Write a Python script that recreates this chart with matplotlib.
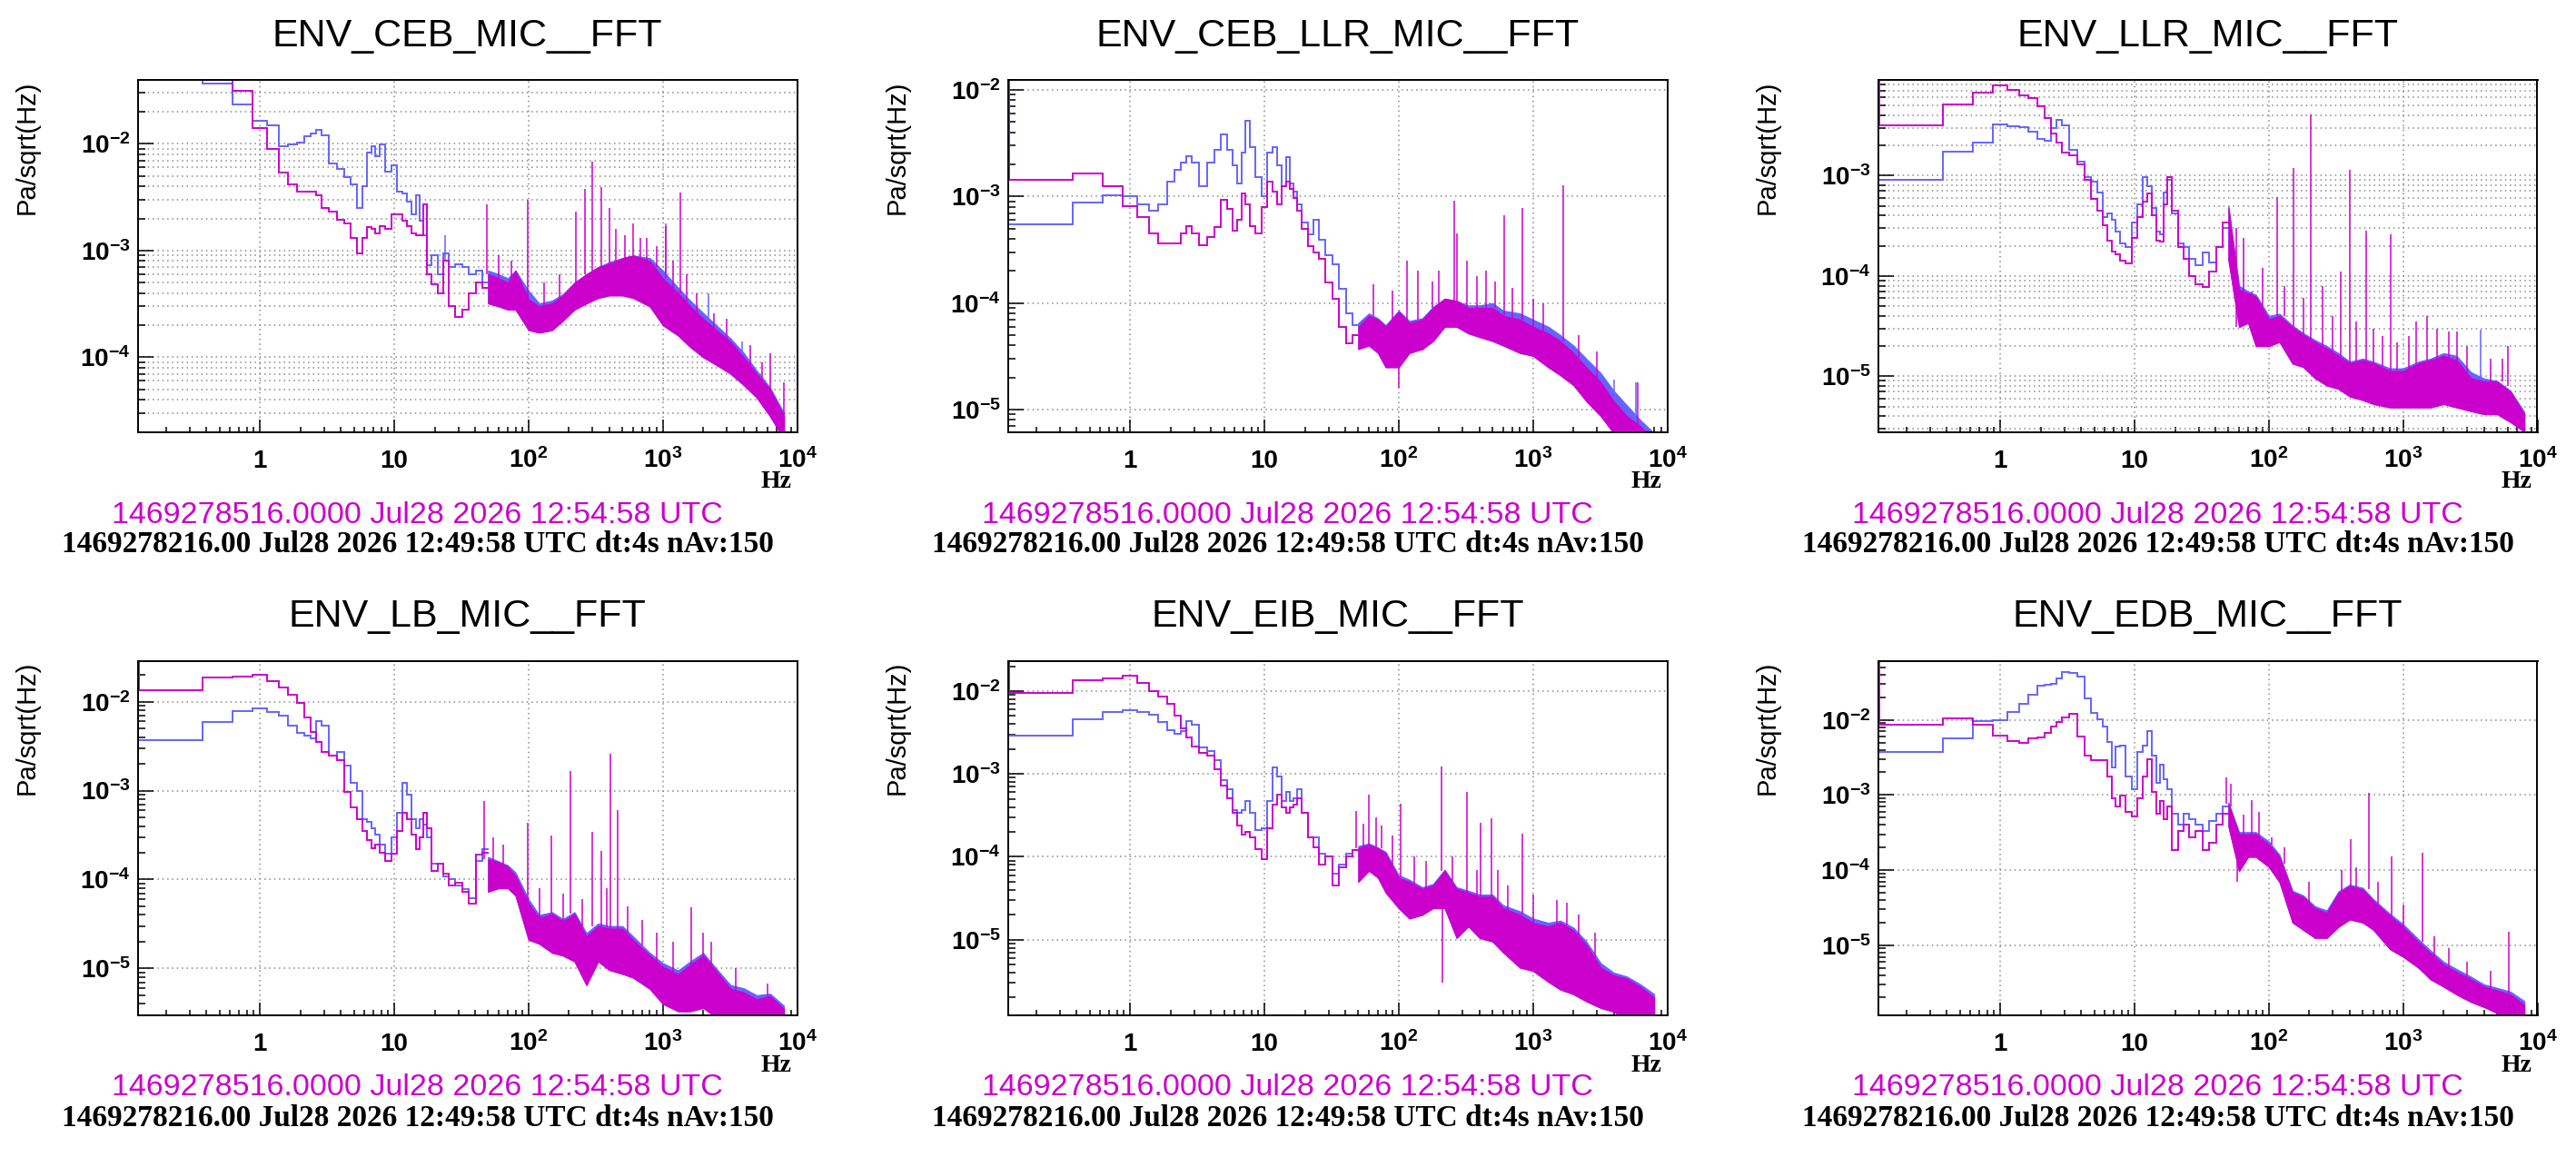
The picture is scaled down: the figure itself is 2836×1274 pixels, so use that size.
import numpy as np
import matplotlib
matplotlib.use("Agg")
import matplotlib.pyplot as plt
from matplotlib.ticker import FixedLocator, LogLocator, NullFormatter, FuncFormatter

plt.rcParams["font.family"] = ["Liberation Sans", "DejaVu Sans"]
plt.rcParams["mathtext.fontset"] = "custom"
plt.rcParams["mathtext.rm"] = "Liberation Sans:bold"
plt.rcParams["mathtext.it"] = "Liberation Sans:bold"
plt.rcParams["mathtext.bf"] = "Liberation Sans:bold"
plt.rcParams["mathtext.default"] = "rm"

W_PX, H_PX = 2836, 1274
BLUE = "#6464ff"
MAGENTA = "#cc00cc"

TITLES = ["ENV_CEB_MIC__FFT", "ENV_CEB_LLR_MIC__FFT", "ENV_LLR_MIC__FFT",
          "ENV_LB_MIC__FFT", "ENV_EIB_MIC__FFT", "ENV_EDB_MIC__FFT"]
STAMP_NOW = "1469278516.0000 Jul28 2026 12:54:58 UTC"
STAMP_REF = "1469278216.00 Jul28 2026 12:49:58 UTC dt:4s nAv:150"
Y_TITLE = "Pa/sqrt(Hz)"
X_UNIT = "Hz"

# log10 of the y range of each pad
Y_RANGE = [(-4.70, -1.404), (-5.21, -1.909), (-5.555, -2.05),
           (-5.527, -1.544), (-5.913, -1.638), (-5.935, -1.218)]
MINOR_GRID = [True, False, True, False, False, False]

# bin centres (Hz) for the low frequency part, drawn as histogram steps
LOW_F = [0.25, 0.5, 0.75, 1.0, 1.25, 1.5, 1.75, 2.0, 2.25, 2.5, 2.75, 3.0,
         3.5, 4.0, 4.5, 5.0, 5.5, 6.0, 6.5, 7.0, 7.5, 8.0,
         9.0, 10, 11, 12, 13, 14, 15, 16, 17, 18,
         20, 22, 24, 27, 30, 34, 38, 43, 48]
# frequencies (Hz) for the dense high frequency band
HIGH_F = [50, 60, 70, 80, 100, 120, 150, 180, 220, 270, 330, 400, 500, 600,
          800, 1000, 1300, 1600, 2000, 2500, 3200, 4000, 5000, 6300, 8000]

# ---- ENV_CEB_MIC
CEB_BLUE_LOW = [0.0394, 0.0365, 0.0234, 0.0163, 0.0148, 0.0095, 0.0098, 0.0103, 0.0118, 0.0126, 0.0134, 0.012,
                0.0065, 0.0058, 0.0049, 0.0042, 0.0025, 0.004, 0.0082, 0.0095, 0.0077, 0.0098,
                0.0055, 0.0063, 0.0036, 0.0034, 0.0029, 0.0022, 0.0033, 0.0019, 0.0014, 0.00073,
                0.0009, 0.0006, 0.00095, 0.0007, 0.00075, 0.0007, 0.0006, 0.00065, 0.0005]
CEB_MAG_LOW = [0.0394, 0.0394, 0.0316, 0.0141, 0.0089, 0.0054, 0.0042, 0.0036, 0.0036, 0.0036, 0.0033, 0.0025,
               0.0023, 0.00195, 0.0018, 0.0013, 0.00095, 0.0013, 0.00166, 0.0016, 0.00146, 0.0017,
               0.0016, 0.0022, 0.0022, 0.0019, 0.0017, 0.00146, 0.0014, 0.0014, 0.0027, 0.0006,
               0.00048, 0.0004, 0.0008, 0.0003, 0.00024, 0.00028, 0.0004, 0.0005, 0.00045]
CEB_MAG_HI = [6e-4, 5.5e-4, 5e-4, 6.5e-4, 3.5e-4, 3.0e-4, 3.2e-4, 3.8e-4, 5e-4, 6e-4, 7e-4, 7.5e-4, 8.5e-4,
              9e-4, 8e-4, 5.5e-4, 4e-4, 3e-4, 2.3e-4, 1.8e-4, 1.4e-4, 1.0e-4, 7e-5, 5e-5, 2.8e-5]
CEB_MAG_LO = [3.2e-4, 3.0e-4, 2.8e-4, 2.8e-4, 1.8e-4, 1.7e-4, 1.8e-4, 2.2e-4, 2.8e-4, 3.2e-4, 3.6e-4, 3.8e-4,
              3.8e-4, 3.6e-4, 3.0e-4, 2.0e-4, 1.6e-4, 1.25e-4, 1.0e-4, 8.5e-5, 7e-5, 5.5e-5, 4.2e-5, 2.8e-5, 1.7e-5]
CEB_BLUE_HI = [6.5e-4, 6e-4, 5.5e-4, 6.5e-4, 4.2e-4, 3.2e-4, 3.4e-4, 3.9e-4, 5e-4, 6e-4, 7e-4, 7.8e-4, 8.5e-4,
               9e-4, 8.5e-4, 6.5e-4, 4.5e-4, 3.4e-4, 2.6e-4, 2e-4, 1.5e-4, 1.1e-4, 7.5e-5, 5.2e-5, 3e-5]
CEB_SPIKE_F = [49, 99, 225, 263, 297, 350, 400, 755, 1050, 1350, 2400, 6300, 8000,
               60, 75, 130, 170, 450, 520, 600, 680, 900, 1200, 1500, 1800, 3000, 4500, 5500]
CEB_SPIKE_BASE = [6e-4, 3.5e-4, 5e-4, 6e-4, 6.5e-4, 7e-4, 7.5e-4, 8e-4, 5.5e-4, 4e-4, 1.8e-4, 5e-5, 2.8e-5,
                  5.5e-4, 5e-4, 3e-4, 3.6e-4, 8e-4, 8.5e-4, 9e-4, 8.5e-4, 7e-4, 4.5e-4, 3.3e-4, 2.6e-4,
                  1.5e-4, 8.5e-5, 6e-5]
CEB_SPIKE_TOP = [2.7e-3, 3.0e-3, 2.3e-3, 3.8e-3, 6.8e-3, 3.9e-3, 2.5e-3, 1.3e-3, 1.7e-3, 3.5e-3, 2.6e-4, 1.1e-4, 5.8e-5,
                 9e-4, 8e-4, 5e-4, 6e-4, 1.6e-3, 1.4e-3, 1.8e-3, 1.3e-3, 1.1e-3, 8e-4, 6e-4, 4e-4,
                 2.3e-4, 1.3e-4, 9e-5]
CEB_BSPIKE_F = [24, 1050, 2200, 3900]
CEB_BSPIKE_BASE = [8e-4, 5.5e-4, 2.3e-4, 1.1e-4]
CEB_BSPIKE_TOP = [1.4e-3, 1.8e-3, 4e-4, 1.4e-4]

# ---- ENV_CEB_LLR_MIC
CEB_LLR_BLUE_LOW = [5.45e-4, 8.7e-4, 1.02e-3, 1.0e-3, 8.4e-4, 7.3e-4, 8.5e-4, 1.38e-3, 1.79e-3, 2.1e-3, 2.37e-3, 2.1e-3,
                    1.25e-3, 2.1e-3, 2.75e-3, 3.8e-3, 2.75e-3, 1.97e-3, 1.33e-3, 2.56e-3, 5.1e-3, 2.9e-3,
                    1.52e-3, 1.0e-3, 2.56e-3, 2.9e-3, 1.97e-3, 1.25e-3, 2.33e-3, 1.33e-3, 1.1e-3, 8.4e-4,
                    5.7e-4, 4.4e-4, 6.1e-4, 3.9e-4, 2.8e-4, 2.3e-4, 1.36e-4, 8e-5, 6.2e-5]
CEB_LLR_MAG_LOW = [1.42e-3, 1.64e-3, 1.26e-3, 8.05e-4, 6.4e-4, 4.5e-4, 3.6e-4, 3.6e-4, 3.6e-4, 4.5e-4, 5.3e-4, 4.5e-4,
                   3.5e-4, 4.2e-4, 5.2e-4, 9.3e-4, 7.6e-4, 4.8e-4, 6.1e-4, 1.06e-3, 8.4e-4, 5.3e-4,
                   4.5e-4, 7.9e-4, 1.38e-3, 1.1e-3, 8.4e-4, 1.25e-3, 1.38e-3, 1.17e-3, 9.6e-4, 7.4e-4,
                   5.0e-4, 3.4e-4, 3.0e-4, 2.6e-4, 1.55e-4, 1.1e-4, 6e-5, 4.2e-5, 5e-5]
CEB_LLR_MAG_HI = [6e-5, 7.6e-5, 7e-5, 6e-5, 8.3e-5, 6.5e-5, 7e-5, 9e-5, 1.1e-4, 1.05e-4, 9e-5, 9e-5, 9e-5,
                  7.6e-5, 7e-5, 6e-5, 5.2e-5, 4.4e-5, 3.4e-5, 2.5e-5, 1.8e-5, 1.2e-5, 8.7e-6, 7e-6, 5e-6]
CEB_LLR_MAG_LO = [3.7e-5, 4e-5, 3.4e-5, 2.5e-5, 2.5e-5, 3.4e-5, 3.7e-5, 4.4e-5, 6e-5, 6e-5, 5.2e-5, 4.8e-5, 4.4e-5,
                  4e-5, 3.4e-5, 3.2e-5, 2.5e-5, 2.1e-5, 1.7e-5, 1.2e-5, 8.7e-6, 6e-6, 5e-6, 4e-6, 3e-6]
CEB_LLR_BLUE_HI = [6.5e-5, 8e-5, 7.2e-5, 6.2e-5, 8.5e-5, 6.8e-5, 7.2e-5, 9.2e-5, 1.1e-4, 1.05e-4, 9.5e-5, 9.5e-5, 1e-4,
                   8.5e-5, 8e-5, 7e-5, 6e-5, 5e-5, 4e-5, 3e-5, 2.2e-5, 1.5e-5, 1.1e-5, 8e-6, 6e-6]
CEB_LLR_SPIKE_F = [100, 116, 140, 178, 261, 270, 610, 830, 1680, 6000,
                   65, 90, 200, 320, 380, 450, 520, 700, 1000, 1200, 2200, 3000]
CEB_LLR_SPIKE_BASE = [3e-5, 6.5e-5, 7e-5, 9e-5, 1.05e-4, 1.05e-4, 7.6e-5, 7e-5, 4.4e-5, 7e-6,
                      7.5e-5, 7e-5, 1e-4, 9e-5, 9e-5, 9e-5, 9e-5, 7e-5, 6e-5, 5.5e-5, 3e-5, 2e-5]
CEB_LLR_SPIKE_TOP = [1.6e-5, 2.5e-4, 2e-4, 1.6e-4, 9.2e-4, 4.5e-4, 6.7e-4, 7.8e-4, 1.27e-3, 1.8e-5,
                     1.5e-4, 1.3e-4, 2e-4, 2.5e-4, 1.8e-4, 2e-4, 1.6e-4, 1.4e-4, 1.1e-4, 1e-4, 5e-5, 3.5e-5]
CEB_LLR_BSPIKE_F = [4000, 5800]
CEB_LLR_BSPIKE_BASE = [1.2e-5, 8e-6]
CEB_LLR_BSPIKE_TOP = [1.9e-5, 1.8e-5]

# ---- ENV_LLR_MIC
LLR_BLUE_LOW = [9.0e-4, 1.74e-3, 2.15e-3, 3.2e-3, 3.1e-3, 3.05e-3, 2.75e-3, 2.3e-3, 2.2e-3, 3e-3, 3.6e-3, 3.15e-3,
                1.8e-3, 1.37e-3, 9.7e-4, 8.7e-4, 6.8e-4, 3.9e-4, 4.2e-4, 3.65e-4, 2.76e-4, 2.1e-4,
                1.95e-4, 3.4e-4, 5.2e-4, 9.7e-4, 7.8e-4, 4.8e-4, 2.76e-4, 2.6e-4, 6.8e-4, 9e-4,
                4.2e-4, 2.1e-4, 1.95e-4, 1.48e-4, 1.28e-4, 1.7e-4, 1.37e-4, 1.95e-4, 3.0e-4]
LLR_MAG_LOW = [3.15e-3, 5.1e-3, 6.75e-3, 7.9e-3, 7.2e-3, 6.3e-3, 5.9e-3, 4.9e-3, 3.7e-3, 2.64e-3, 2.15e-3, 1.68e-3,
               1.6e-3, 1.28e-3, 9.0e-4, 5.9e-4, 4.5e-4, 3.2e-4, 2.24e-4, 1.76e-4, 1.64e-4, 1.43e-4,
               1.34e-4, 2.4e-4, 3.9e-4, 5.5e-4, 6.6e-4, 4e-4, 2.24e-4, 2.2e-4, 5.2e-4, 9.7e-4,
               4.5e-4, 1.95e-4, 1.48e-4, 1.0e-4, 8.2e-5, 7.7e-5, 1.1e-4, 1.95e-4, 3.4e-4]
LLR_MAG_HI = [4.8e-4, 7.3e-5, 6.7e-5, 6.2e-5, 3.7e-5, 4e-5, 3.1e-5, 2.6e-5, 2.2e-5, 1.9e-5, 1.6e-5, 1.35e-5, 1.45e-5,
              1.35e-5, 1.13e-5, 1.13e-5, 1.35e-5, 1.45e-5, 1.6e-5, 1.45e-5, 9.6e-6, 8.9e-6, 8.9e-6, 7e-6, 4.2e-6]
LLR_MAG_LO = [1.44e-4, 3.1e-5, 3.4e-5, 2.0e-5, 2.0e-5, 2.2e-5, 1.34e-5, 1.24e-5, 9.6e-6, 8.1e-6, 7.5e-6, 6.3e-6, 5.8e-6,
              5.3e-6, 4.9e-6, 4.9e-6, 4.9e-6, 4.9e-6, 5.3e-6, 4.9e-6, 4.5e-6, 4.2e-6, 4.2e-6, 3.5e-6, 2.8e-6]
LLR_BLUE_HI = [5e-4, 8e-5, 7e-5, 6.5e-5, 4e-5, 4.2e-5, 3.2e-5, 2.7e-5, 2.3e-5, 2e-5, 1.7e-5, 1.4e-5, 1.5e-5,
               1.4e-5, 1.2e-5, 1.2e-5, 1.4e-5, 1.5e-5, 1.7e-5, 1.6e-5, 1.1e-5, 9.5e-6, 9e-6, 7.2e-6, 4.4e-6]
LLR_SPIKE_F = [57, 65, 75, 115, 152, 205, 250, 345, 400, 530, 810, 1250, 1500, 2500, 5500, 6000,
               90, 130, 180, 300, 450, 600, 700, 900, 1100, 1800, 2200, 3000, 4500]
LLR_SPIKE_BASE = [3e-4, 7e-5, 6.5e-5, 4e-5, 3.1e-5, 2.2e-5, 1.9e-5, 1.6e-5, 1.35e-5, 1.45e-5, 1.13e-5,
                  1.35e-5, 1.45e-5, 1.45e-5, 8.9e-6, 8e-6,
                  5e-5, 4e-5, 2.6e-5, 1.7e-5, 1.4e-5, 1.35e-5, 1.25e-5, 1.13e-5, 1.2e-5, 1.5e-5, 1.5e-5,
                  1.1e-5, 8.9e-6]
LLR_SPIKE_TOP = [3.1e-5, 2.4e-4, 7e-5, 6.1e-4, 1.2e-3, 4.1e-3, 8e-5, 1.1e-4, 1.15e-3, 2.8e-4, 2.6e-4,
                 3.5e-5, 4e-5, 2.8e-5, 1.5e-5, 2e-5,
                 1.2e-4, 8e-5, 6e-5, 4e-5, 3.5e-5, 3e-5, 2.5e-5, 2.2e-5, 2.5e-5, 3e-5, 2.8e-5, 2e-5, 1.5e-5]
LLR_BSPIKE_F = [3800]
LLR_BSPIKE_BASE = [9e-6]
LLR_BSPIKE_TOP = [2.9e-5]

# ---- ENV_LB_MIC
LB_BLUE_LOW = [3.7e-3, 5.9e-3, 7.85e-3, 8.35e-3, 7.7e-3, 6.9e-3, 5.4e-3, 4.45e-3, 4.2e-3, 3.9e-3, 6.1e-3, 5.4e-3,
               2.5e-3, 2.7e-3, 1.9e-3, 1.23e-3, 1.0e-3, 4.8e-4, 4.4e-4, 3.8e-4, 3.2e-4, 2.45e-4,
               1.94e-4, 3.0e-4, 5.6e-4, 1.23e-3, 9e-4, 4.8e-4, 3.8e-4, 4.8e-4, 4.1e-4, 3.0e-4,
               1.5e-4, 1.5e-4, 1.08e-4, 1.0e-4, 8.5e-5, 7.9e-5, 6.2e-5, 1.6e-4, 2.2e-4]
LB_MAG_LOW = [0.0134, 0.0187, 0.0193, 0.0202, 0.0169, 0.0145, 0.0119, 0.0096, 0.0066, 0.0046, 0.0035, 0.0027,
              0.0025, 0.0022, 9.7e-4, 6.5e-4, 4.8e-4, 3.5e-4, 2.76e-4, 2.27e-4, 2.45e-4, 2.0e-4,
              1.6e-4, 1.94e-4, 3.5e-4, 5.6e-4, 4.8e-4, 3.2e-4, 2.2e-4, 3.0e-4, 5.6e-4, 3.8e-4,
              1.26e-4, 1.5e-4, 1.17e-4, 8.5e-5, 9.2e-5, 7.3e-5, 5.3e-5, 1.9e-4, 2.0e-4]
LB_MAG_HI = [1.7e-4, 1.57e-4, 1.4e-4, 1.1e-4, 5.4e-5, 3.7e-5, 4.1e-5, 3.4e-5, 4.1e-5, 2.3e-5, 3e-5, 2.8e-5, 2.8e-5,
             2.1e-5, 1.4e-5, 1.05e-5, 8.6e-6, 1.1e-5, 1.4e-5, 9.4e-6, 5.9e-6, 5.4e-6, 4.5e-6, 4.9e-6, 3.5e-6]
LB_MAG_LO = [7.3e-5, 8e-5, 8e-5, 6.6e-5, 2.1e-5, 1.9e-5, 1.5e-5, 1.4e-5, 1.2e-5, 6.5e-6, 1.2e-5, 9.6e-6, 8.7e-6,
             7.9e-6, 5.9e-6, 4e-6, 3.3e-6, 3.3e-6, 3.6e-6, 2.8e-6, 2.5e-6, 2.5e-6, 2.5e-6, 2.5e-6, 2.5e-6]
LB_BLUE_HI = [1.8e-4, 1.6e-4, 1.45e-4, 1.2e-4, 6e-5, 4e-5, 4.3e-5, 3.6e-5, 4.3e-5, 2.5e-5, 3.2e-5, 3e-5, 3e-5,
              2.3e-5, 1.5e-5, 1.15e-5, 9.5e-6, 1.2e-5, 1.5e-5, 1e-5, 6.5e-6, 6e-6, 5e-6, 5.2e-6, 3.8e-6]
LB_SPIKE_F = [47, 99, 148, 206, 300, 350, 405, 460, 1620, 6000,
              55, 65, 120, 180, 250, 380, 550, 700, 900, 1200, 2000, 2300, 3500]
LB_SPIKE_BASE = [1.7e-4, 5.4e-5, 4.1e-5, 4.1e-5, 3e-5, 3e-5, 2.8e-5, 2.8e-5, 1.1e-5, 4.9e-6,
                 1.6e-4, 1.5e-4, 3.7e-5, 3.4e-5, 3e-5, 2.9e-5, 2.5e-5, 1.8e-5, 1.2e-5, 9e-6, 1.4e-5, 1.1e-5, 5.7e-6]
LB_SPIKE_TOP = [7.7e-4, 4.3e-4, 3.1e-4, 1.67e-3, 3.4e-4, 2.1e-4, 2.6e-3, 6e-4, 4.9e-5, 6.8e-6,
                3e-4, 2.5e-4, 8e-5, 7e-5, 6e-5, 8e-5, 5e-5, 3.5e-5, 2.5e-5, 2e-5, 2.5e-5, 2e-5, 1e-5]
LB_BSPIKE_F = []
LB_BSPIKE_BASE = []
LB_BSPIKE_TOP = []

# ---- ENV_EIB_MIC
EIB_BLUE_LOW = [2.9e-3, 4.6e-3, 5.6e-3, 5.95e-3, 5.6e-3, 5.2e-3, 4.2e-3, 3.4e-3, 3.05e-3, 3.3e-3, 4.4e-3, 3.9e-3,
                2.1e-3, 1.9e-3, 1.47e-3, 8.5e-4, 6.6e-4, 3.7e-4, 3.4e-4, 3.7e-4, 4.7e-4, 3.4e-4,
                2.1e-4, 2.2e-4, 4.7e-4, 1.2e-3, 9.3e-4, 4.7e-4, 6.1e-4, 4.7e-4, 5.1e-4, 6.6e-4,
                3.4e-4, 1.7e-4, 1.7e-4, 1.1e-4, 1.0e-4, 6.3e-5, 8e-5, 1.1e-4, 1.2e-4]
EIB_MAG_LOW = [9.6e-3, 0.0136, 0.0142, 0.0152, 0.0125, 0.0101, 8.6e-3, 6.97e-3, 5.0e-3, 3.55e-3, 2.76e-3, 2.14e-3,
               1.8e-3, 1.66e-3, 1.14e-3, 7.2e-4, 5.1e-4, 3.4e-4, 2.4e-4, 1.87e-4, 2.0e-4, 1.7e-4,
               1.24e-4, 9.5e-5, 2.2e-4, 4.3e-4, 5.6e-4, 4e-4, 3.4e-4, 4e-4, 4.3e-4, 5.1e-4,
               3.4e-4, 1.7e-4, 1.3e-4, 8e-5, 1.0e-4, 4.5e-5, 7.5e-5, 1.0e-4, 1.2e-4]
EIB_MAG_HI = [1.27e-4, 1.4e-4, 1.27e-4, 1.1e-4, 5.6e-5, 5e-5, 4.1e-5, 4.5e-5, 6.8e-5, 4.1e-5, 3.7e-5, 3.3e-5, 3.3e-5,
              2.4e-5, 2e-5, 1.6e-5, 1.45e-5, 1.6e-5, 1.3e-5, 8.6e-6, 4.6e-6, 3.7e-6, 3.4e-6, 2.7e-6, 2e-6]
EIB_MAG_LO = [5e-5, 6.8e-5, 5.6e-5, 3.7e-5, 2.4e-5, 1.8e-5, 2e-5, 2.4e-5, 2.4e-5, 1.05e-5, 1.45e-5, 1.05e-5, 9.5e-6,
              7e-6, 4.6e-6, 4.2e-6, 3.1e-6, 2.5e-6, 2.2e-6, 1.8e-6, 1.5e-6, 1.35e-6, 1.1e-6, 1.1e-6, 1.1e-6]
EIB_BLUE_HI = [1.35e-4, 1.45e-4, 1.3e-4, 1.15e-4, 6e-5, 5.3e-5, 4.3e-5, 4.7e-5, 7e-5, 4.3e-5, 3.9e-5, 3.5e-5, 3.5e-5,
               2.6e-5, 2.2e-5, 1.8e-5, 1.6e-5, 1.7e-5, 1.4e-5, 9.5e-6, 5.2e-6, 4e-6, 3.6e-6, 2.9e-6, 2.2e-6]
EIB_SPIKE_F = [48, 60, 75, 103, 207, 212, 320, 410, 490, 830, 2900,
               55, 68, 90, 130, 160, 250, 380, 550, 650, 1000, 1500, 1800, 2200]
EIB_SPIKE_BASE = [1.27e-4, 1.4e-4, 1.27e-4, 5.6e-5, 6.8e-5, 2.4e-5, 3.7e-5, 3.3e-5, 3.3e-5, 2e-5, 5e-6,
                  1.3e-4, 1.3e-4, 8e-5, 4.7e-5, 4.2e-5, 5e-5, 3.4e-5, 2.8e-5, 2.3e-5, 1.6e-5, 1.5e-5, 1.5e-5, 1.1e-5]
EIB_SPIKE_TOP = [3.6e-4, 5.7e-4, 2.4e-4, 4.4e-4, 1.24e-3, 3e-6, 6e-4, 2.6e-4, 2.9e-4, 1.9e-4, 1.2e-5,
                 2.5e-4, 3e-4, 1.8e-4, 1e-4, 9e-5, 1e-4, 7e-5, 7e-5, 4.5e-5, 3.5e-5, 3e-5, 2.8e-5, 2e-5]
EIB_BSPIKE_F = []
EIB_BSPIKE_BASE = []
EIB_BSPIKE_TOP = []

# ---- ENV_EDB_MIC
EDB_BLUE_LOW = [3.7e-3, 5.7e-3, 9.7e-3, 9.9e-3, 0.0128, 0.0165, 0.0218, 0.0283, 0.029, 0.030, 0.0357, 0.043,
                0.0417, 0.0374, 0.0195, 0.0123, 0.0102, 8.1e-3, 5.1e-3, 2.3e-3, 4.4e-3, 4.6e-3,
                1.75e-3, 1.2e-3, 3.7e-3, 4.6e-3, 7.0e-3, 3.3e-3, 1.45e-3, 2.5e-3, 1.6e-3, 1.2e-3,
                5.7e-4, 4e-4, 5.7e-4, 4.8e-4, 4e-4, 3.3e-4, 4.5e-4, 5.7e-4, 7e-4]
EDB_MAG_LOW = [8.5e-3, 0.0105, 8.5e-3, 6.1e-3, 5.2e-3, 4.9e-3, 5.6e-3, 5.9e-3, 6.7e-3, 8.1e-3, 9.3e-3, 0.0107,
               0.0122, 6e-3, 3.3e-3, 2.9e-3, 2.9e-3, 2.9e-3, 1.75e-3, 9.1e-4, 7.0e-4, 9.8e-4,
               6e-4, 5.2e-4, 9.1e-4, 1.75e-3, 3.0e-3, 1.1e-3, 5.7e-4, 8.3e-4, 4.8e-4, 7e-4,
               1.87e-4, 3.3e-4, 4e-4, 2.7e-4, 3.3e-4, 1.87e-4, 2.3e-4, 4e-4, 5.7e-4]
EDB_MAG_HI = [7.6e-4, 3.0e-4, 3e-4, 3e-4, 2.2e-4, 1.5e-4, 5e-5, 4.4e-5, 3.1e-5, 2.7e-5, 5e-5, 6.1e-5, 5.5e-5,
              3.9e-5, 2.45e-5, 1.75e-5, 1.1e-5, 7.8e-6, 5.5e-6, 4.4e-6, 3.5e-6, 2.8e-6, 2.5e-6, 2.2e-6, 1.6e-6]
EDB_MAG_LO = [3.8e-4, 9.7e-5, 1.5e-4, 1.5e-4, 1.1e-4, 6.9e-5, 2e-5, 1.6e-5, 1.25e-5, 1.25e-5, 1.75e-5, 2.2e-5, 2e-5,
              1.6e-5, 8.8e-6, 7e-6, 5e-6, 3.5e-6, 2.8e-6, 2.2e-6, 1.75e-6, 1.5e-6, 1.25e-6, 1.1e-6, 1.1e-6]
EDB_BLUE_HI = [8e-4, 3.2e-4, 3.2e-4, 3.2e-4, 2.4e-4, 1.6e-4, 5.3e-5, 4.6e-5, 3.3e-5, 2.9e-5, 5.2e-5, 6.4e-5, 5.8e-5,
               4.1e-5, 2.6e-5, 1.9e-5, 1.2e-5, 8.5e-6, 6e-6, 4.8e-6, 3.8e-6, 3e-6, 2.7e-6, 2.4e-6, 1.8e-6]
EDB_SPIKE_F = [48, 58, 75, 105, 410, 560, 820, 1400, 6100,
               52, 65, 85, 130, 200, 350, 450, 650, 1000, 1700, 2200, 3000, 4500]
EDB_SPIKE_BASE = [7.6e-4, 3e-4, 3e-4, 2.2e-4, 6.1e-5, 5.5e-5, 2.45e-5, 1.1e-5, 2.2e-6,
                  7e-4, 3e-4, 2.8e-4, 1.2e-4, 3.7e-5, 5.3e-5, 5.8e-5, 3.6e-5, 1.75e-5, 7e-6, 5e-6, 3.7e-6, 2.7e-6]
EDB_SPIKE_TOP = [1.7e-3, 6.9e-5, 8.5e-4, 2.7e-4, 2.55e-4, 1.07e-3, 1.5e-4, 1.7e-4, 1.5e-5,
                 1.4e-3, 5.5e-4, 6e-4, 2e-4, 7e-5, 1e-4, 1.1e-4, 7e-5, 3.5e-5, 1.3e-5, 9e-6, 6e-6, 4.5e-6]
EDB_BSPIKE_F = []
EDB_BSPIKE_BASE = []
EDB_BSPIKE_TOP = []

panels = [
    (CEB_BLUE_LOW, CEB_MAG_LOW, CEB_BLUE_HI, CEB_MAG_HI, CEB_MAG_LO,
     CEB_SPIKE_F, CEB_SPIKE_BASE, CEB_SPIKE_TOP, CEB_BSPIKE_F, CEB_BSPIKE_BASE, CEB_BSPIKE_TOP),
    (CEB_LLR_BLUE_LOW, CEB_LLR_MAG_LOW, CEB_LLR_BLUE_HI, CEB_LLR_MAG_HI, CEB_LLR_MAG_LO,
     CEB_LLR_SPIKE_F, CEB_LLR_SPIKE_BASE, CEB_LLR_SPIKE_TOP, CEB_LLR_BSPIKE_F, CEB_LLR_BSPIKE_BASE, CEB_LLR_BSPIKE_TOP),
    (LLR_BLUE_LOW, LLR_MAG_LOW, LLR_BLUE_HI, LLR_MAG_HI, LLR_MAG_LO,
     LLR_SPIKE_F, LLR_SPIKE_BASE, LLR_SPIKE_TOP, LLR_BSPIKE_F, LLR_BSPIKE_BASE, LLR_BSPIKE_TOP),
    (LB_BLUE_LOW, LB_MAG_LOW, LB_BLUE_HI, LB_MAG_HI, LB_MAG_LO,
     LB_SPIKE_F, LB_SPIKE_BASE, LB_SPIKE_TOP, LB_BSPIKE_F, LB_BSPIKE_BASE, LB_BSPIKE_TOP),
    (EIB_BLUE_LOW, EIB_MAG_LOW, EIB_BLUE_HI, EIB_MAG_HI, EIB_MAG_LO,
     EIB_SPIKE_F, EIB_SPIKE_BASE, EIB_SPIKE_TOP, EIB_BSPIKE_F, EIB_BSPIKE_BASE, EIB_BSPIKE_TOP),
    (EDB_BLUE_LOW, EDB_MAG_LOW, EDB_BLUE_HI, EDB_MAG_HI, EDB_MAG_LO,
     EDB_SPIKE_F, EDB_SPIKE_BASE, EDB_SPIKE_TOP, EDB_BSPIKE_F, EDB_BSPIKE_BASE, EDB_BSPIKE_TOP),
]

# pad geometry in pixels
COL_LEFT = [151.7, 1109.7, 2067.7]
AX_W = 725.8
ROW_TOP = [88.3, 728.0]
AX_H = [387.4, 390.0]
TITLE_Y = [40, 679]
NOW_Y = [567, 1198]
REF_Y = [600, 1232]
X_LEFT = 0.123

low_f = np.array(LOW_F)
edges = np.concatenate([[low_f[0] - (low_f[1] - low_f[0]) / 2],
                        (low_f[:-1] + low_f[1:]) / 2,
                        [low_f[-1] + (low_f[-1] - low_f[-2]) / 2]])

fig = plt.figure(figsize=(W_PX / 100, H_PX / 100), dpi=100)

LW = 1.4
for i, (blue, mag, bhi, mhi, mlo, sf, sb, st, bsf, bsb, bst) in enumerate(panels):
    row, col = divmod(i, 3)
    left, top, h = COL_LEFT[col], ROW_TOP[row], AX_H[row]
    ax = fig.add_axes([left / W_PX, 1 - (top + h) / H_PX, AX_W / W_PX, h / H_PX])
    ax.set_xscale("log")
    ax.set_yscale("log")
    ylo, yhi = 10 ** Y_RANGE[i][0], 10 ** Y_RANGE[i][1]

    # reference trace (blue) first, current trace (magenta) on top
    ax.fill_between(HIGH_F, mlo, bhi, color=BLUE, lw=0.8, zorder=2.0)
    ax.stairs(blue, edges, baseline=None, color=BLUE, lw=LW, zorder=2.1)
    if bsf:
        ax.vlines(bsf, bsb, bst, color=BLUE, lw=1.1, zorder=2.1)
    ax.fill_between(HIGH_F, mlo, mhi, color=MAGENTA, lw=0.8, zorder=2.2)
    ax.stairs(mag, edges, baseline=None, color=MAGENTA, lw=LW, zorder=2.3)
    ax.vlines(sf, sb, st, color=MAGENTA, lw=1.1, zorder=2.3)
    ax.vlines(edges[0], mag[0], yhi, color=MAGENTA, lw=LW, zorder=2.3)

    ax.set_xlim(X_LEFT, 1e4)
    ax.set_ylim(ylo, yhi)

    ax.xaxis.set_major_locator(FixedLocator([1, 10, 100, 1000, 10000]))
    ax.xaxis.set_major_formatter(NullFormatter())
    ax.xaxis.set_minor_locator(LogLocator(10, subs=np.arange(2, 10), numticks=50))
    ax.xaxis.set_minor_formatter(NullFormatter())
    ax.yaxis.set_major_locator(FixedLocator([10.0 ** e for e in range(-7, 1)]))
    ax.yaxis.set_major_formatter(FuncFormatter(lambda v, p: r"$10^{%d}$" % round(np.log10(v))))
    ax.yaxis.set_minor_locator(LogLocator(10, subs=np.arange(2, 10), numticks=50))
    ax.yaxis.set_minor_formatter(NullFormatter())

    ax.tick_params(which="both", direction="in", top=False, right=False, width=1.1)
    ax.tick_params(axis="y", which="major", length=12, pad=6, labelsize=20)
    ax.tick_params(axis="y", which="minor", length=5.5)
    ax.tick_params(axis="x", which="major", length=10)
    ax.tick_params(axis="x", which="minor", length=4)
    for sp in ax.spines.values():
        sp.set_linewidth(1.4)

    ax.set_axisbelow(True)
    ax.grid(True, which="major", ls=(0, (1, 2.5)), color="#8a8a8a", lw=1.1)
    if MINOR_GRID[i]:
        ax.yaxis.grid(True, which="minor", ls=(0, (1, 2.5)), color="#8a8a8a", lw=1.1)

    # x labels, ROOT style (shared baseline)
    for f, s in zip([1, 10, 100, 1000, 10000], ["1", "10", r"$10^{2}$", r"$10^{3}$", r"$10^{4}$"]):
        ax.text(f, -39 / h, s, transform=ax.get_xaxis_transform(), ha="center", va="baseline",
                fontsize=20, fontweight="bold")
    fig.text((left + AX_W - 6) / W_PX, 1 - (top + h + 55) / H_PX, X_UNIT, ha="right", va="center",
             fontsize=20, fontweight="bold", family="Liberation Serif")

    fig.text((left - 122) / W_PX, 1 - top / H_PX, Y_TITLE, rotation=90, ha="center", va="top",
             fontsize=21)
    cx = left + AX_W / 2
    fig.text(cx / W_PX, 1 - TITLE_Y[row] / H_PX, TITLES[i], ha="center", va="center", fontsize=31)
    fig.text((cx - 55) / W_PX, 1 - NOW_Y[row] / H_PX, STAMP_NOW, ha="center", va="center",
             fontsize=24.5, color=MAGENTA)
    fig.text((cx - 55) / W_PX, 1 - REF_Y[row] / H_PX, STAMP_REF, ha="center", va="center",
             fontsize=24, fontweight="bold", family="Liberation Serif")

fig.savefig("out.png", dpi=100)
